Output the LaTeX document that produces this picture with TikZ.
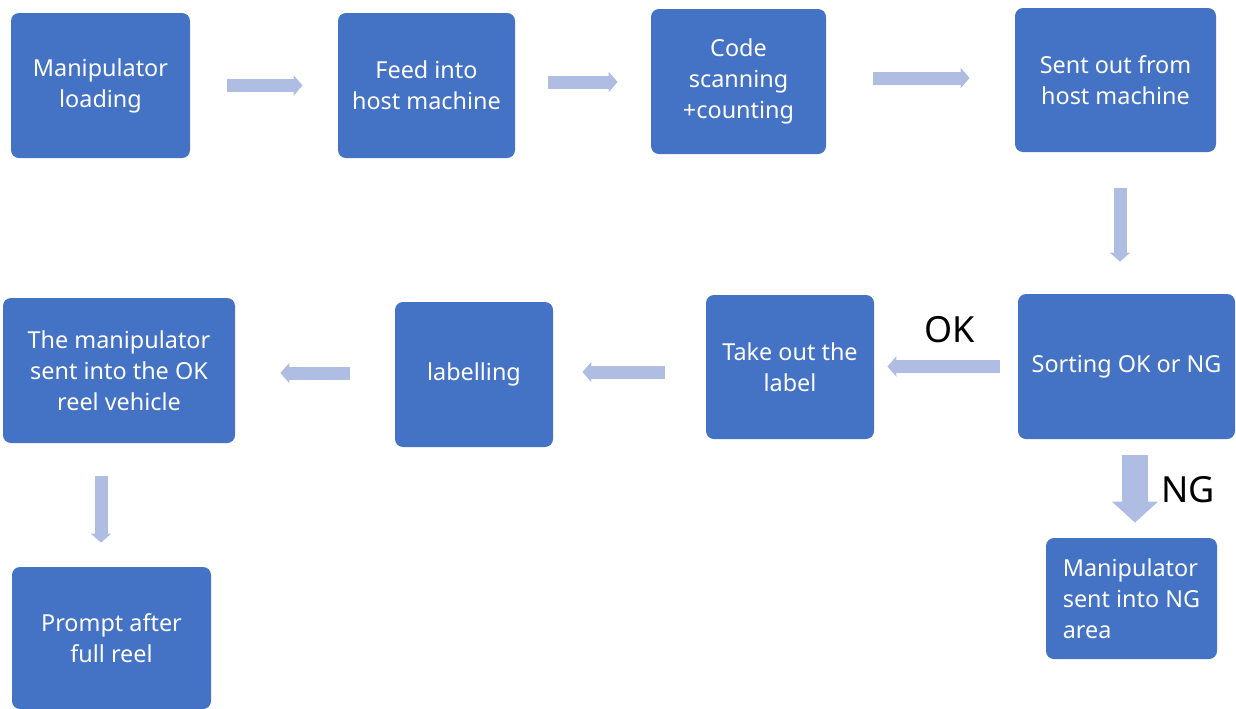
\documentclass[tikz,border=0pt]{standalone}
\usepackage{fontspec}
\setmainfont{Noto Sans}
\usetikzlibrary{arrows.meta,shapes}
\definecolor{boxblue}{HTML}{4472C4}
\definecolor{arrowblue}{HTML}{AFBDE2}
\tikzstyle{stepbox}=[rectangle, rounded corners=4pt
%,draw=boxblue
,fill=boxblue, text=white, align=center
,inner sep=0pt
,font=\fontsize{11.7}{15.5}\selectfont
]
\tikzstyle{flow} = [draw=arrowblue, line width=6.5pt, -{Triangle[length=4.5pt,width=10pt]}]
\tikzstyle{bigflow} = [draw=arrowblue, line width=13pt, -{Triangle[length=10.5pt,width=22.5pt]}]
\tikzstyle{tag} = [font=\fontsize{18}{20}\selectfont, text=black]

\begin{document}
\begin{tikzpicture}[x=0.5pt,y=-0.5pt]
    \useasboundingbox (0,0) rectangle (1236,708);
    % First we draw the boxes
    \foreach \pos/\w/\h/\name/\txt in {{(100.5,85.5)/179/145/load/{Manipulator\\loading}},
        {(426.5,85.5)/177/145/feed/{Feed into\\host machine}},
        {(738.5,81.5)/175/145/scan/{Code\\scanning\\+counting}},
        {(1115.5,80)/201/144/sent/{Sent out from\\host machine}},
        {(1126.5,366.5)/217/145/sort/{Sorting OK or NG}},
        {(790,367)/168/144/take/{Take out the\\label}},
        {(474,374.5)/158/145/lab/{labelling}},
        {(119,370.5)/232/145/okreel/{The manipulator\\sent into the OK\\reel vehicle}},
        {(111.5,638)/199/142/prompt/{Prompt after\\full reel}}}
        \node[stepbox, minimum width=\w*0.5pt, minimum height=\h*0.5pt] (\name) at \pos {\txt};
    \node[stepbox, align=left, minimum width=85.5pt, minimum height=60.5pt] (ngarea) at (1131.5,598.5) {Manipulator\\sent into NG\\area};

    % Connect boxes with arrows
    \foreach \source/\a/\dest/\b/\sa/\sb/\dy in {load/east/feed/west/18.5/17.5/0,
        feed/east/scan/west/16.5/16.5/1.75, scan/east/sent/west/23.5/22.5/1.75,
        sort/west/take/east/9/6.5/0, take/west/lab/east/20.5/14.5/-2.5,
        lab/west/okreel/east/22.5/22.5/0.75}
        \draw[flow, shorten <=\sa pt, shorten >=\sb pt] ([yshift=\dy pt]\source.\a) -- ([yshift=\dy pt]\source.\a -| \dest.\b);
    \foreach \source/\dest/\sa/\sb/\dx in {sent/sort/18/16/2.25, okreel/prompt/16.5/12/-9}
        \draw[flow, shorten <=\sa pt, shorten >=\sb pt] ([xshift=\dx pt]\source.south) -- ([xshift=\dx pt]\source.south |- \dest.north);
    \draw[bigflow, shorten <=8pt, shorten >=7.5pt] ([xshift=4.25pt]sort.south) -- ([xshift=4.25pt]sort.south |- ngarea.north);

    % OK / NG labels
    \node[tag] (ok) at (950,330) {OK};
    \node[tag] (ng) at (1188,490) {NG};
\end{tikzpicture}
\end{document}
